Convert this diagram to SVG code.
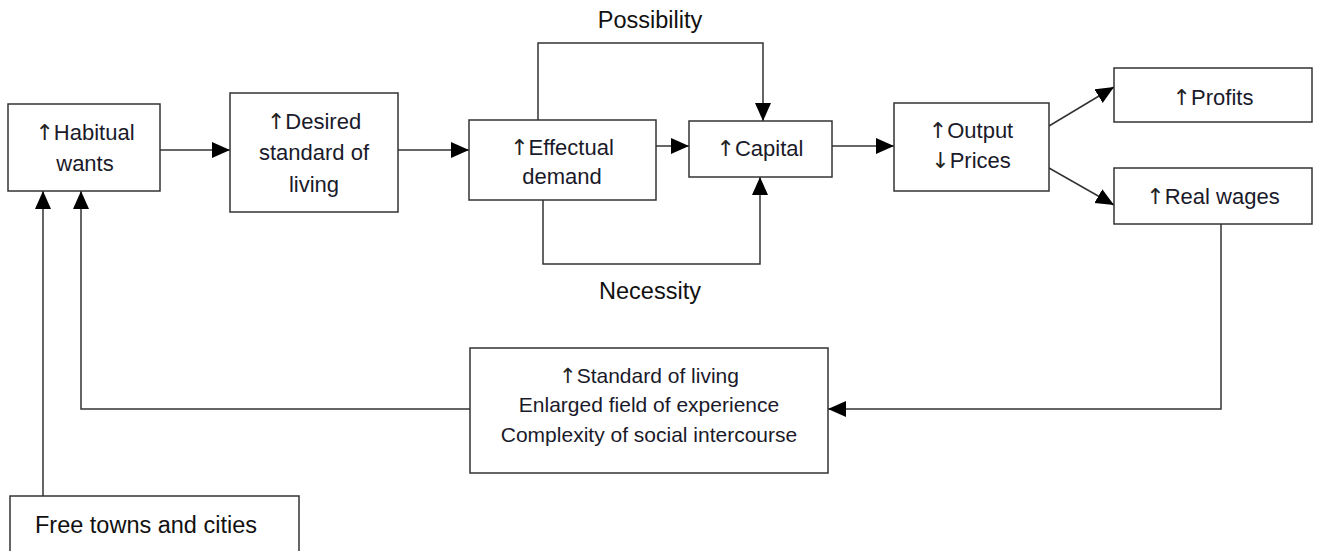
<svg xmlns="http://www.w3.org/2000/svg" width="1318" height="551" viewBox="0 0 1318 551">
<style>
.box{fill:#fff;stroke:#333;stroke-width:1.5}
.t{font-family:"Liberation Sans",Arial,sans-serif;font-size:22px;fill:#1a1a2a;text-anchor:middle}
.s{font-family:"Liberation Sans",Arial,sans-serif;font-size:21px;fill:#1a1a2a;text-anchor:middle}
.lab{font-family:"Liberation Sans",Arial,sans-serif;font-size:23.5px;fill:#111;text-anchor:middle}
.a{font-family:"DejaVu Sans",sans-serif;fill:#222}
.c{fill:none;stroke:#333;stroke-width:1.5}
</style>
<defs>
<marker id="ah" markerUnits="userSpaceOnUse" markerWidth="20" markerHeight="18" refX="18" refY="8" orient="auto">
<path d="M0,0 L18,8 L0,16 z" fill="#000"/>
</marker>
</defs>
<rect width="1318" height="551" fill="#fff"/>
<g id="connectors">
<line class="c" x1="160" y1="150" x2="230" y2="150" marker-end="url(#ah)"/>
<line class="c" x1="398" y1="150" x2="469" y2="150" marker-end="url(#ah)"/>
<line class="c" x1="656" y1="146" x2="689" y2="146" marker-end="url(#ah)"/>
<line class="c" x1="832" y1="146" x2="894" y2="146" marker-end="url(#ah)"/>
<path class="c" d="M538,120 V43 H763 V121" marker-end="url(#ah)"/>
<path class="c" d="M543,200 V264 H760 V177" marker-end="url(#ah)"/>
<line class="c" x1="1049" y1="126" x2="1114" y2="87" marker-end="url(#ah)"/>
<line class="c" x1="1049" y1="168" x2="1114" y2="205" marker-end="url(#ah)"/>
<path class="c" d="M1221,224 V409 H828" marker-end="url(#ah)"/>
<path class="c" d="M470,409 H81 V191" marker-end="url(#ah)"/>
<path class="c" d="M43,496 V191" marker-end="url(#ah)"/>
<text class="lab" x="650" y="28">Possibility</text>
<text class="lab" x="650" y="299">Necessity</text>
</g>
<g id="habitual">
<rect class="box" x="8" y="104" width="152" height="87"/>
<text class="t" x="85" y="140"><tspan class="a">↑</tspan>Habitual</text>
<text class="t" x="85" y="171">wants</text>
</g>
<g id="desired">
<rect class="box" x="230" y="93" width="168" height="119"/>
<text class="t" x="314" y="129"><tspan class="a">↑</tspan>Desired</text>
<text class="t" x="314" y="160">standard of</text>
<text class="t" x="314" y="192">living</text>
</g>
<g id="effectual">
<rect class="box" x="469" y="120" width="187" height="80"/>
<text class="t" x="562" y="155"><tspan class="a">↑</tspan>Effectual</text>
<text class="t" x="562" y="184">demand</text>
</g>
<g id="capital">
<rect class="box" x="689" y="121" width="143" height="56"/>
<text class="t" x="760" y="156"><tspan class="a">↑</tspan>Capital</text>
</g>
<g id="output">
<rect class="box" x="894" y="103" width="155" height="88"/>
<text class="t" x="971" y="138"><tspan class="a">↑</tspan>Output</text>
<text class="t" x="971" y="168"><tspan class="a">↓</tspan>Prices</text>
</g>
<g id="profits">
<rect class="box" x="1114" y="68" width="198" height="54"/>
<text class="t" x="1213" y="105"><tspan class="a">↑</tspan>Profits</text>
</g>
<g id="realwages">
<rect class="box" x="1114" y="168" width="198" height="56"/>
<text class="t" x="1213" y="204"><tspan class="a">↑</tspan>Real wages</text>
</g>
<g id="standard">
<rect class="box" x="470" y="348" width="358" height="125"/>
<text class="s" x="649" y="383"><tspan class="a">↑</tspan>Standard of living</text>
<text class="s" x="649" y="412">Enlarged field of experience</text>
<text class="s" x="649" y="442">Complexity of social intercourse</text>
</g>
<g id="freetowns">
<rect class="box" x="10" y="496" width="289" height="60"/>
<text class="lab" x="146" y="533">Free towns and cities</text>
</g>
</svg>
